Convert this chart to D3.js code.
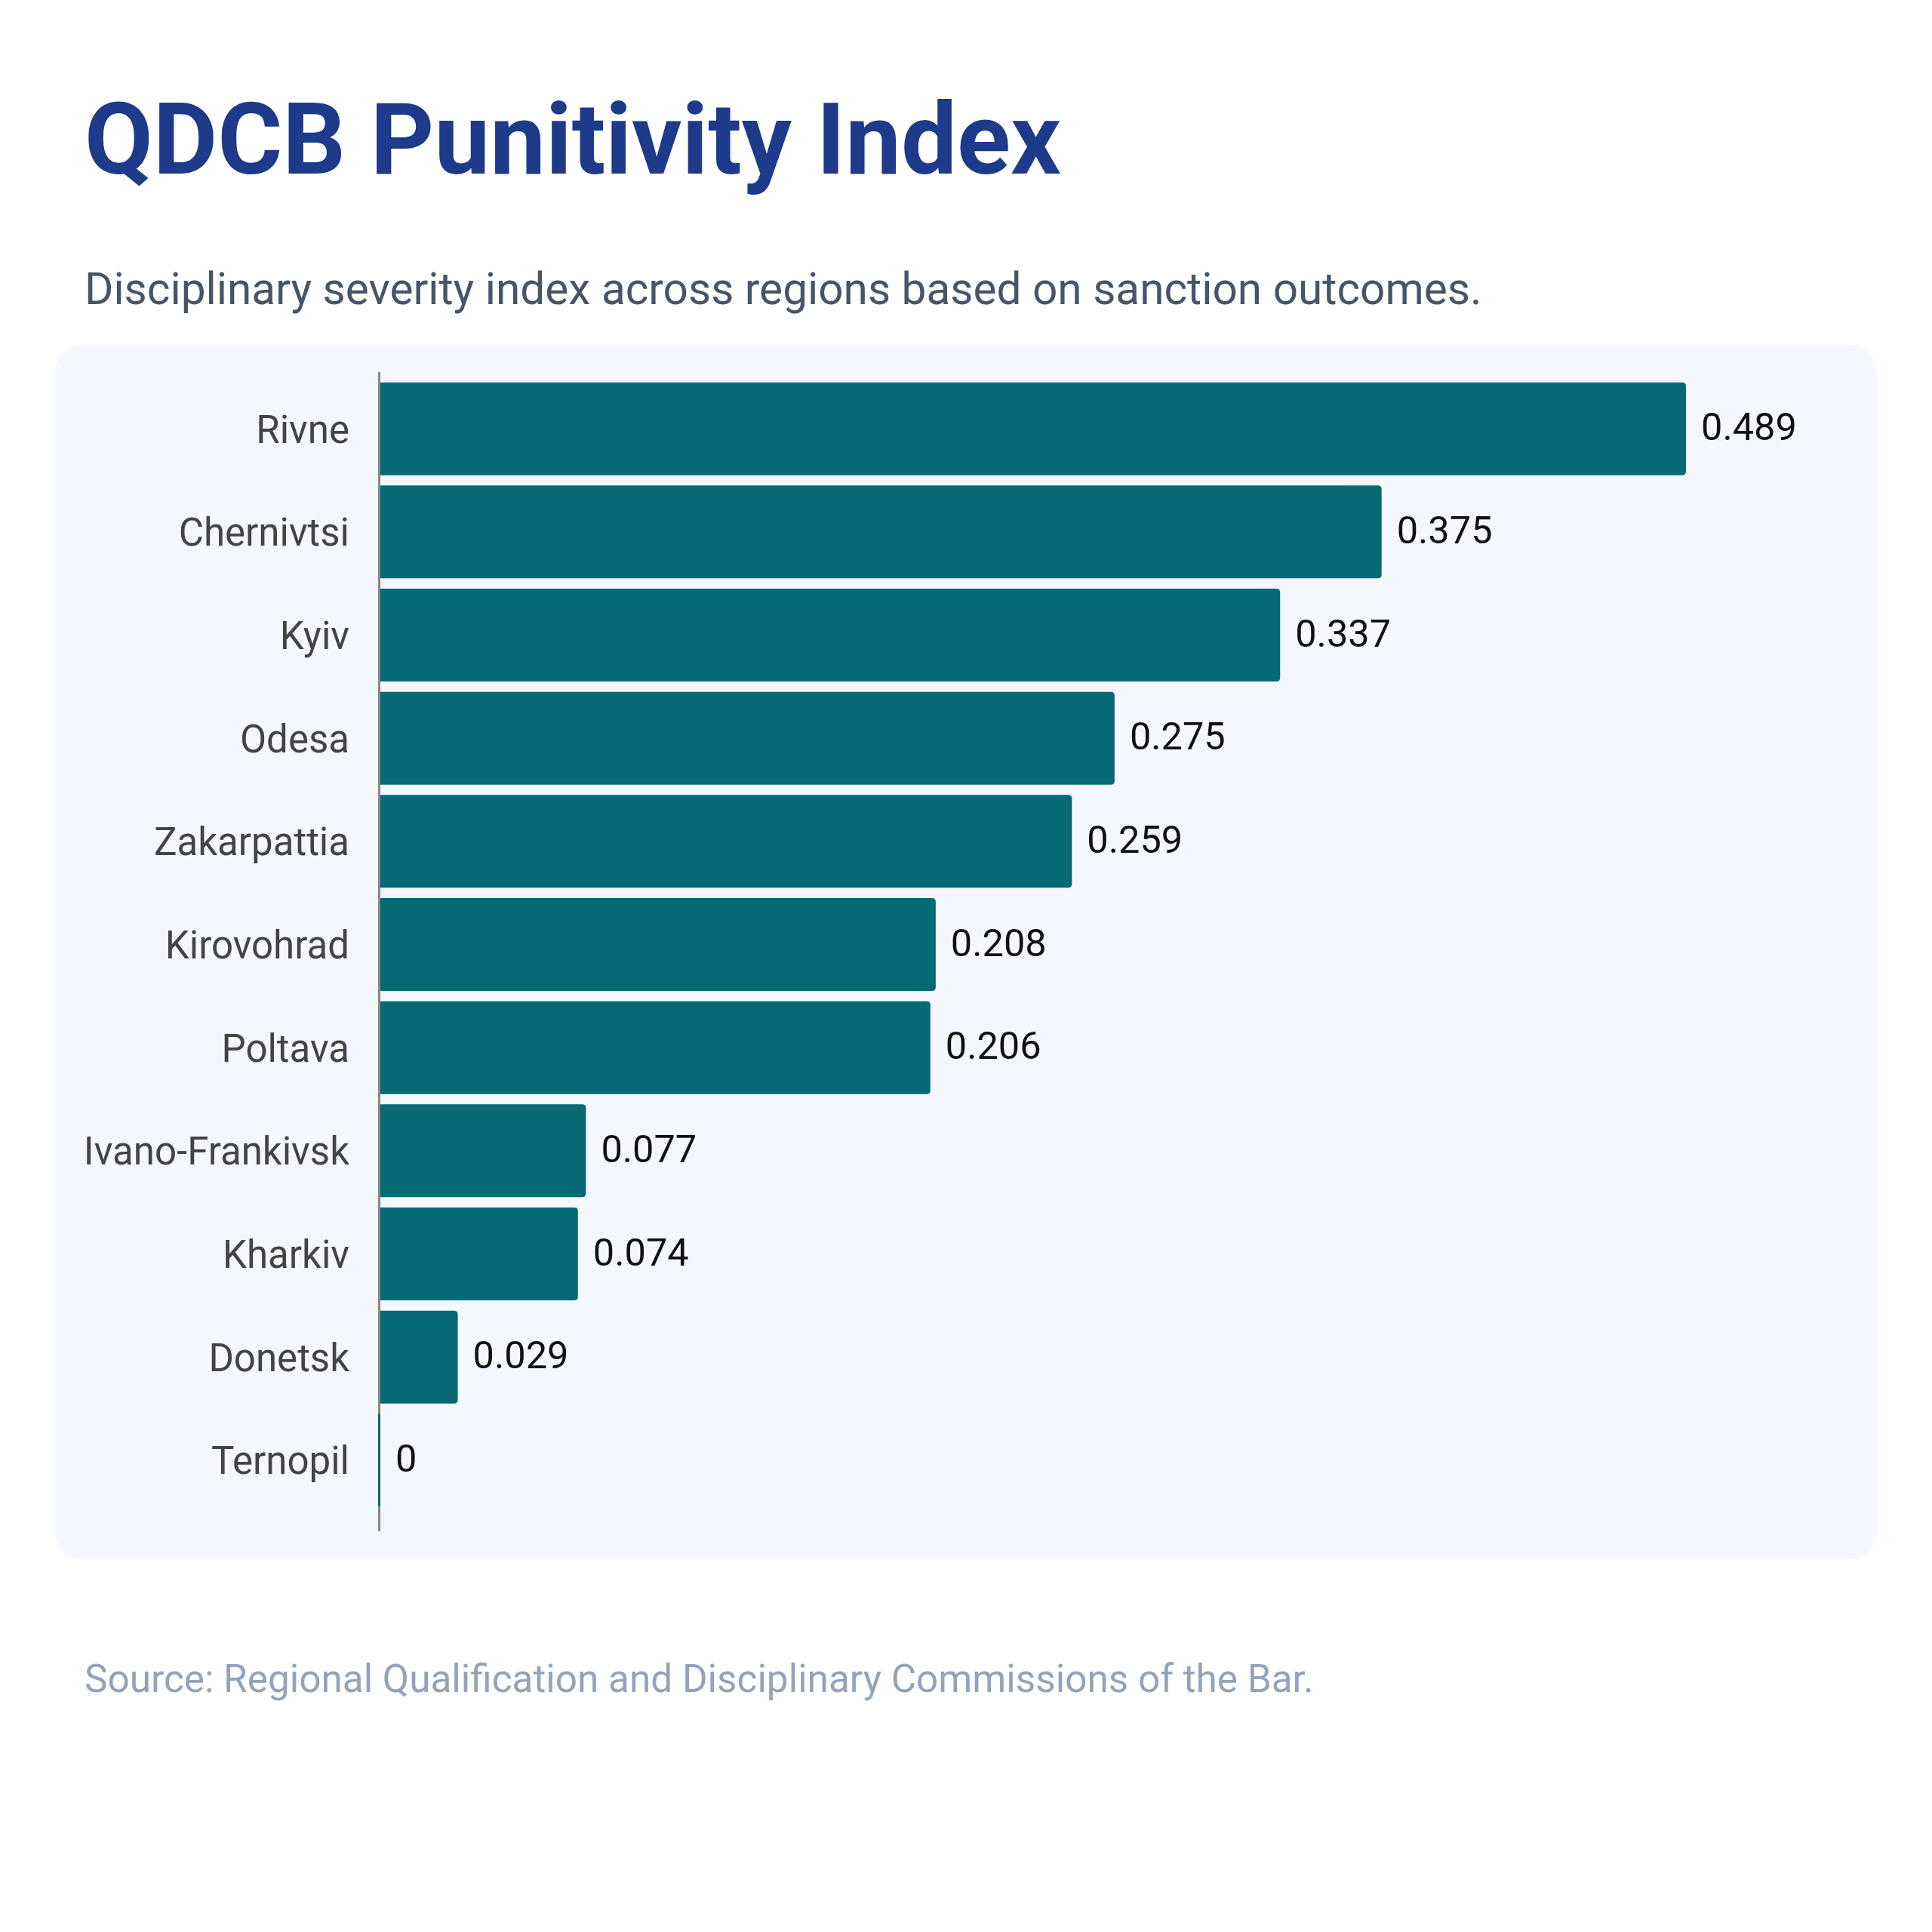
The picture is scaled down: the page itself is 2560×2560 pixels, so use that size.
<!DOCTYPE html>
<html>
<head>
<meta charset="utf-8">
<script src="https://cdn.jsdelivr.net/npm/d3@7"></script>
<style>
  html, body { margin: 0; padding: 0; background: #ffffff; }
  svg { display: block; font-family: Roboto, "Noto Sans", sans-serif; }
</style>
</head>
<body>
<div id="chart"></div>
<script>
// data
const regions = ["Rivne", "Chernivtsi", "Kyiv", "Odesa", "Zakarpattia", "Kirovohrad",
                 "Poltava", "Ivano-Frankivsk", "Kharkiv", "Donetsk", "Ternopil"];
const punitivity = [0.489, 0.375, 0.337, 0.275, 0.259, 0.208, 0.206, 0.077, 0.074, 0.029, 0];

const title = "QDCB Punitivity Index";
const subtitle = "Disciplinary severity index across regions based on sanction outcomes.";
const source = "Source: Regional Qualification and Disciplinary Commissions of the Bar.";

const W = 2560, H = 2560;

const svg = d3.select("#chart").append("svg")
    .attr("width", W)
    .attr("height", H);

svg.append("rect").attr("width", W).attr("height", H).attr("fill", "#ffffff");

// titles
svg.append("text")
    .attr("x", 112).attr("y", 230)
    .attr("font-size", 131.5).attr("font-weight", 700)
    .attr("fill", "#1e3a8a")
    .text(title);

svg.append("text")
    .attr("x", 112).attr("y", 403)
    .attr("font-size", 58.5)
    .attr("fill", "#475569")
    .text(subtitle);

// panel
svg.append("rect")
    .attr("x", 73).attr("y", 457)
    .attr("width", 2414).attr("height", 1609)
    .attr("rx", 36)
    .attr("fill", "#f4f7fe");

const x = d3.scaleLinear()
    .domain([0, d3.max(punitivity) * 1.1])
    .range([504, 2407]);

const y = d3.scaleBand()
    .domain(regions)
    .range([493, 2010])
    .paddingInner(0.1)
    .paddingOuter(0.1);

const data = regions.map((r, i) => ({ region: r, value: punitivity[i] }));

// axis line
svg.append("line")
    .attr("x1", 502.5).attr("x2", 502.5)
    .attr("y1", 493).attr("y2", 2029)
    .attr("stroke", "#888888")
    .attr("stroke-width", 3);

// bar with rounded right end only
function barPath(x0, y0, w, h, r) {
    r = Math.min(r, w / 2, h / 2);
    return `M${x0},${y0}H${x0 + w - r}Q${x0 + w},${y0} ${x0 + w},${y0 + r}` +
           `V${y0 + h - r}Q${x0 + w},${y0 + h} ${x0 + w - r},${y0 + h}H${x0}Z`;
}

svg.append("g").selectAll("path")
    .data(data)
    .enter()
    .append("path")
    .attr("d", d => {
        const w = x(d.value) - x(0);
        if (w < 3) return barPath(x(0) - 3, y(d.region), 3, y.bandwidth(), 0);
        return barPath(x(0), y(d.region), w, y.bandwidth(), 5);
    })
    .attr("fill", "#066a74");

// category labels
svg.append("g").selectAll("text")
    .data(data)
    .enter()
    .append("text")
    .attr("x", 463)
    .attr("y", d => y(d.region) + y.bandwidth() / 2)
    .attr("dy", "0.36em")
    .attr("text-anchor", "end")
    .attr("font-size", 51)
    .attr("fill", "#444444")
    .text(d => d.region);

// value labels
svg.append("g").selectAll("text")
    .data(data)
    .enter()
    .append("text")
    .attr("x", d => x(d.value) + 20)
    .attr("y", d => y(d.region) + y.bandwidth() / 2)
    .attr("dy", "0.3em")
    .attr("font-size", 50.5)
    .attr("fill", "#111111")
    .text(d => d.value);

// source
svg.append("text")
    .attr("x", 112).attr("y", 2242)
    .attr("font-size", 51.3)
    .attr("fill", "#94a3b8")
    .text(source);
</script>
</body>
</html>
